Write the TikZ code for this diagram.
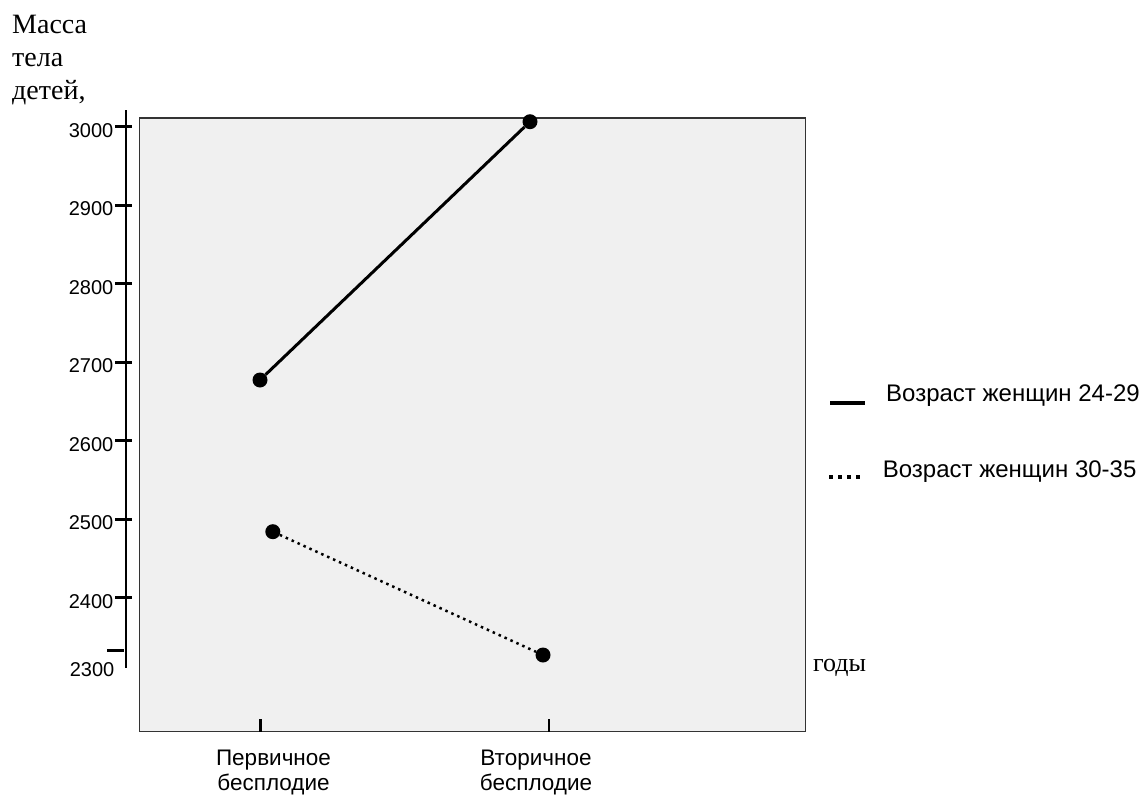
\documentclass[tikz,border=0pt]{standalone}
\usepackage{fontspec}
\setmainfont{Liberation Serif}
\newfontfamily\arialfont{Liberation Sans}
\usetikzlibrary{positioning}
\definecolor{Panel}{RGB}{240,240,240}
\definecolor{Frame}{RGB}{51,51,51}
\tikzset{
  plotbox/.style={draw=Frame,fill=Panel,line width=1.5pt},
  axisline/.style={draw=black,line width=1.6pt},
  tickline/.style={draw=black,line width=2.6pt},
  ylabel/.style={anchor=east,inner sep=0pt,font=\arialfont\fontsize{20}{22}\selectfont},
  xlabel/.style={anchor=north,inner sep=0pt,align=center,font=\arialfont\fontsize{22.5}{24.5}\selectfont},
  legendtext/.style={anchor=base west,inner sep=0pt,font=\arialfont\fontsize{24}{26}\selectfont},
  datapoint/.style={circle,fill=black,inner sep=0pt,minimum size=15pt},
  youngline/.style={line width=3pt,draw=black},
  olderline/.style={line width=2.5pt,draw=black,dash pattern=on 2.5pt off 4pt}
}

\begin{document}
\begin{tikzpicture}[x=1pt,y=-1pt]
\useasboundingbox (0,0) rectangle (1141,795);
\draw[plotbox] (139.3,118) rectangle (805.7,731.7);
\draw[axisline] (125.7,110) -- (125.7,668);
\foreach \v in {3000,2900,...,2400}{
  \draw[tickline] (115,{126.7+(3000-\v)*0.785}) -- (131.7,{126.7+(3000-\v)*0.785});
  \node[ylabel] (lab\v) at (113.5,{130.2+(3000-\v)*0.785}) {\v};
}
\draw[tickline] (107,650.3) -- (124,650.3);
\node[ylabel] (lab2300) at (114.5,670) {2300};
\node[anchor=north west,inner sep=0pt,align=left,font=\fontsize{28}{33.3}\selectfont] (ytitle) at (12,14.8) {Масса\\тела\\детей,};
\draw[tickline] (260.7,719) -- (260.7,731.7);
\draw[tickline] (549,719) -- (549,731.7);
\node[xlabel] (primary) at (273.5,750.2) {Первичное\\бесплодие};
\node[xlabel] (secondary) at (536,750.2) {Вторичное\\бесплодие};
\node[anchor=base west,inner sep=0pt,font=\fontsize{26}{28}\selectfont] (years) at (813,671.7) {годы};
% data
\node[datapoint] (youngA) at (260,380) {};
\node[datapoint] (youngB) at (530,121.7) {};
\node[datapoint] (olderA) at (272.8,531.7) {};
\node[datapoint] (olderB) at (543,655) {};
\draw[youngline] (youngA) -- (youngB);
\draw[olderline] (olderA) -- (olderB);
% legend
\coordinate (keyA) at (830,403.3); \coordinate (keyB) at (865,403.3);
\coordinate (keyC) at (829,476.7); \coordinate (keyD) at (862,476.7);
\draw[line width=4pt] (keyA) -- (keyB);
\draw[line width=4pt,dash pattern=on 4pt off 5pt] (keyC) -- (keyD);
\node[legendtext] (keyyoung) at (886,401.7) {Возраст женщин 24-29};
\node[legendtext] (keyolder) at (882.7,477) {Возраст женщин 30-35};
\end{tikzpicture}
\end{document}
